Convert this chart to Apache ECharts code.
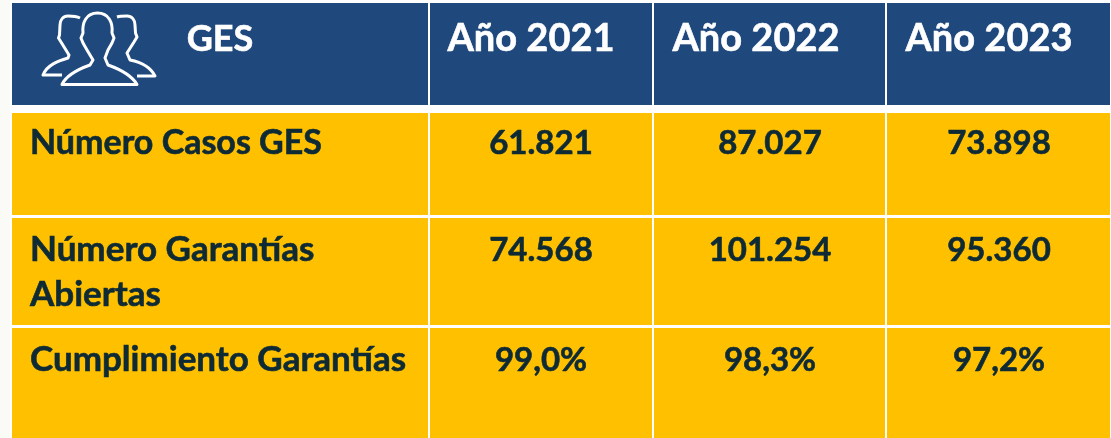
<!DOCTYPE html>
<html><head><meta charset="utf-8">
<style>html,body{margin:0;padding:0;background:#fff}#c{width:1111px;height:438px}</style>
<script src="https://cdn.jsdelivr.net/npm/echarts@6/dist/echarts.min.js"></script>
</head><body><div id="c"></div>
<script>
// Table content
var headers = ['GES', 'Año 2021', 'Año 2022', 'Año 2023'];
var rowLabels = [['Número Casos GES'], ['Número Garantías', 'Abiertas'], ['Cumplimiento Garantías']];
var casosGes = ['61.821', '87.027', '73.898'];
var garantiasAbiertas = ['74.568', '101.254', '95.360'];
var cumplimiento = ['99,0%', '98,3%', '97,2%'];

// Layout of the table, in axis units (= pixels)
var colEdges = [[12, 428], [430, 652], [654, 885], [887, 1110]];
var rowEdges = [[3, 105], [113, 215], [218, 325], [328, 438]];
var marginEdge = 10;
var headCenters = [220, 531, 756, 989];
var dataCenters = [0, 541, 770, 999];
var labelX = 30;
var headY = 39;
var rowY = [[143], [250, 295], [360]];
var headSizes = [36, 38, 38, 38];
var labelSizes = [[34], [35, 35], [35]];
var valueSize = 33;
var navy = '#1F497D', amber = '#FFC000', ink = '#0E2A35', paper = '#FAFAF6';
var font = 'Lato, "Open Sans", sans-serif';
var iconPaths = [
  'M80 18C76 16 71 16 68 16C63 16 60 20 60 25L59.5 35L58.5 38L61 42L69 55L68 58C58 61 47 65 43 75L62 75',
  'M117 17C120 16 124 16 127 16C132 16 135 20 135 25L135.5 33L137 37L134 42L127 53L130 60C140 62 150 66 155 76L137 76',
  'M62 84.5C66 76 76 70 90 65L93 60L87 50L83 43L81 38L83 33C82 23 86 13 97.5 13C109 13 113 23 112 33L114 38L112 43L108 50L105 58L108 65C122 70 132 76 137 84.5Z'
];

var rowsValues = [casosGes, garantiasAbiertas, cumplimiento];
var cells = [];
rowEdges.forEach(function (r, ri) { colEdges.forEach(function (c, ci) { cells.push([ci, ri]); }); });

var texts = [];
headers.forEach(function (h, i) { texts.push([headCenters[i], headY, h, '#fff', 'center', headSizes[i]]); });
rowLabels.forEach(function (lines, r) {
  lines.forEach(function (l, k) { texts.push([labelX, rowY[r][k], l, ink, 'left', labelSizes[r][k]]); });
  rowsValues[r].forEach(function (v, i) { texts.push([dataCenters[i + 1], rowY[r][0], v, ink, 'center', valueSize]); });
});

var chart = echarts.init(document.getElementById('c'), null, { renderer: 'canvas' });
chart.setOption({
  animation: false,
  backgroundColor: '#fff',
  grid: { left: 0, right: 0, top: 0, bottom: 0 },
  xAxis: { type: 'value', min: 0, max: 1111, show: false },
  yAxis: { type: 'value', min: 0, max: 438, inverse: true, show: false },
  series: [
    {
      type: 'custom', silent: true, coordinateSystem: 'cartesian2d', clip: true, z: 0, data: [[0, 0]],
      renderItem: function (params, api) {
        var a = api.coord([0, 0]), b = api.coord([marginEdge, 438]);
        return { type: 'rect', shape: { x: a[0], y: a[1], width: b[0] - a[0], height: b[1] - a[1] }, style: { fill: paper } };
      }
    },
    {
      type: 'custom', silent: true, coordinateSystem: 'cartesian2d', data: cells, clip: true, z: 1,
      renderItem: function (params, api) {
        var ci = api.value(0), ri = api.value(1);
        var a = api.coord([colEdges[ci][0], rowEdges[ri][0]]);
        var b = api.coord([colEdges[ci][1], rowEdges[ri][1]]);
        return { type: 'rect', shape: { x: a[0], y: a[1], width: b[0] - a[0], height: b[1] - a[1] },
                 style: { fill: ri === 0 ? navy : amber } };
      }
    },
    {
      type: 'custom', silent: true, coordinateSystem: 'cartesian2d', clip: false, z: 2,
      data: texts.map(function (t, i) { return [t[0], t[1], i]; }),
      renderItem: function (params, api) {
        var t = texts[api.value(2)];
        var p = api.coord([api.value(0), api.value(1)]);
        return { type: 'text', x: p[0], y: p[1],
                 style: { text: t[2], fill: t[3], align: t[4], verticalAlign: 'middle',
                          stroke: t[3], lineWidth: 0.6,
                          font: 'bold ' + t[5] + 'px ' + font } };
      }
    },
    {
      type: 'custom', silent: true, coordinateSystem: 'cartesian2d', clip: false, z: 3,
      data: iconPaths.map(function (d, i) { return [0, 0, i]; }),
      renderItem: function (params, api) {
        return { type: 'path', shape: { pathData: iconPaths[api.value(2)] },
                 style: { fill: 'none', stroke: '#fff', lineWidth: 3, lineJoin: 'round' } };
      }
    }
  ]
});
</script></body></html>
